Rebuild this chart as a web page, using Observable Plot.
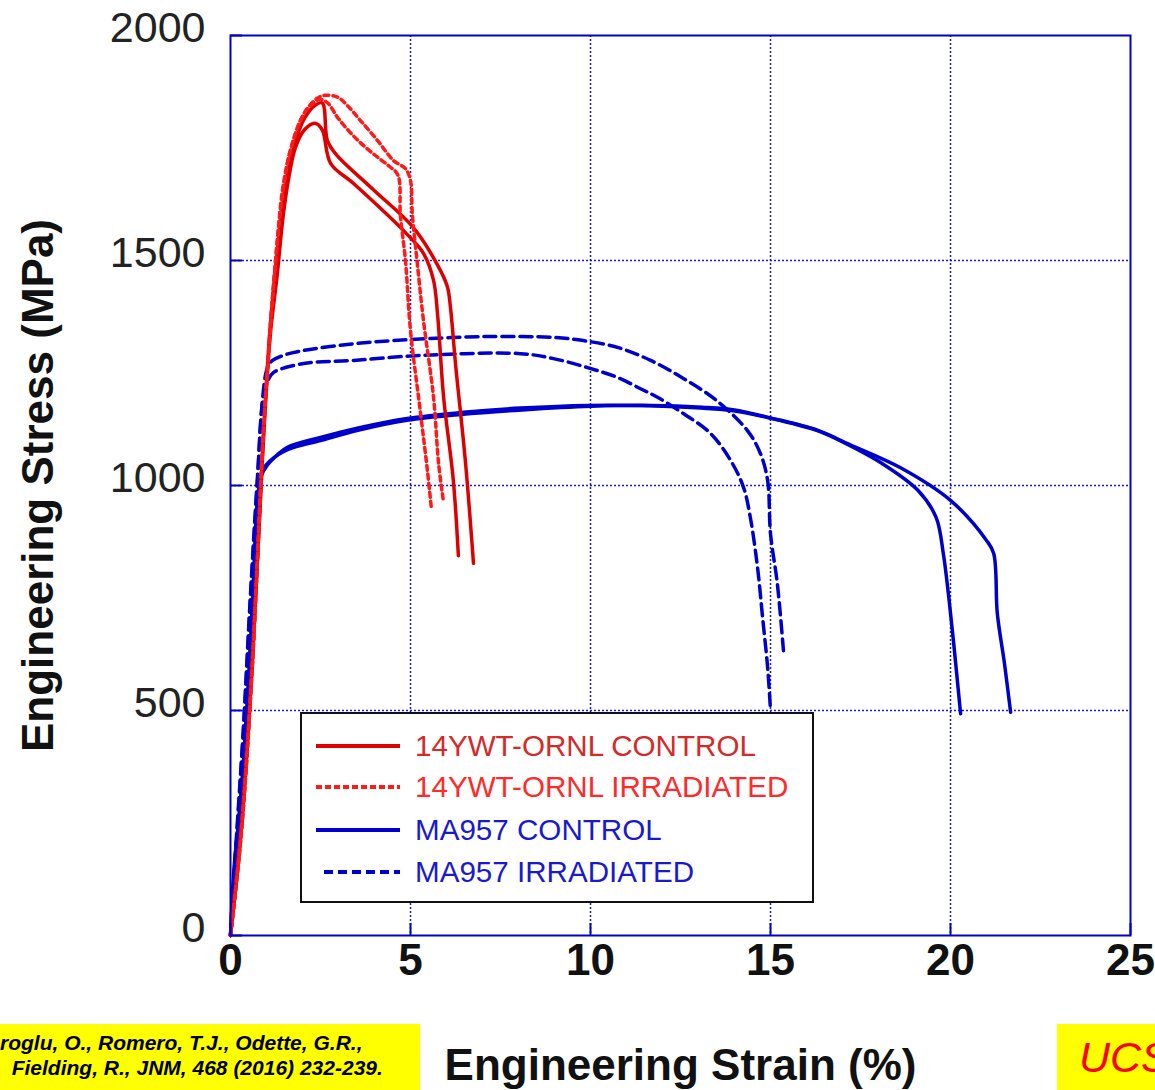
<!DOCTYPE html>
<html>
<head>
<meta charset="utf-8">
<script src="https://cdn.jsdelivr.net/npm/d3@7"></script>
<script src="https://cdn.jsdelivr.net/npm/@observablehq/plot@0.6"></script>
<style>
  html, body { margin: 0; padding: 0; background: #fff; }
  #wrap { position: relative; width: 1155px; height: 1090px; overflow: hidden; font-family: "Liberation Sans", Arial, sans-serif; }
  #legend { position: absolute; left: 300px; top: 712px; width: 510px; height: 187px; border: 2px solid #111; background: #fff; }
  .row { position: absolute; left: 0; height: 40px; width: 510px; }
  .row svg { position: absolute; left: 0; top: 0; }
  .row span { position: absolute; left: 113px; top: 0; line-height: 40px; font-size: 29.6px; white-space: nowrap; }
  #cite { position: absolute; left: 0; top: 1024px; width: 420px; height: 66px; background: #ffff00; font-weight: bold; font-style: italic; font-size: 21px; color: #000; }
  #cite div { position: absolute; white-space: pre; line-height: 24px; }
  #ucs { position: absolute; left: 1057px; top: 1024px; width: 110px; height: 66px; background: #ffff00; color: #ff0000; font-style: italic; font-size: 43px; }
  #ucs span { position: absolute; left: 22px; top: 10px; line-height: 46px; }
</style>
</head>
<body>
<div id="wrap">
  <div id="chart"></div>
  <div id="legend"></div>
  <div id="cite"><div style="left:0;top:7px">roglu, O., Romero, T.J., Odette, G.R.,</div><div style="left:0;top:32px">  Fielding, R., JNM, 468 (2016) 232-239.</div></div>
  <div id="ucs"><span>UCS</span></div>
</div>
<script>
// ---- Data (strain %, stress MPa) ----
const xTicks = [0, 5, 10, 15, 20, 25];
const yTicks = [0, 500, 1000, 1500, 2000];
const xGrid = [5, 10, 15, 20];
const yGrid = [500, 1000, 1500];

const ywtControl1 = [[0,0],[0.3,240],[0.6,600],[0.9,1080],[1.1,1330],[1.3,1470],[1.45,1590],[1.6,1675],[1.8,1750],[2.05,1790],[2.35,1805],[2.55,1790],[2.78,1716],[3.42,1671],[4.86,1562],[5.36,1516],[5.64,1456],[5.75,1382],[5.92,1196],[6.19,1011],[6.33,844]];
const ywtControl2 = [[0,0],[0.3,235],[0.6,595],[0.9,1090],[1.1,1350],[1.3,1520],[1.5,1650],[1.75,1750],[2.05,1815],[2.35,1845],[2.55,1850],[2.69,1767],[2.92,1737],[4.0,1655],[5.08,1573],[5.83,1478],[6.03,1440],[6.11,1396],[6.25,1271],[6.53,1049],[6.75,827]];
const ywtIrr1 = [[0,0],[0.3,225],[0.6,590],[0.9,1100],[1.05,1290],[1.2,1450],[1.4,1620],[1.65,1740],[2.0,1820],[2.3,1850],[2.5,1858],[2.7,1850],[3.0,1815],[3.5,1770],[4.0,1735],[4.4,1710],[4.65,1690],[4.72,1600],[4.86,1500],[5.0,1344],[5.28,1160],[5.47,1033],[5.58,949]];
const ywtIrr2 = [[0,0],[0.3,230],[0.6,590],[0.9,1100],[1.05,1280],[1.15,1400],[1.3,1540],[1.45,1660],[1.7,1755],[2.05,1828],[2.4,1860],[2.6,1867],[2.97,1863],[3.25,1844],[3.61,1811],[4.08,1767],[4.53,1722],[4.86,1704],[5.0,1678],[5.05,1604],[5.19,1493],[5.36,1367],[5.64,1196],[5.78,1049],[5.92,962]];
const maControl1 = [[0,0],[0.1,150],[0.28,300],[0.47,522],[0.61,744],[0.75,967],[0.85,1020],[1.02,1045],[1.3,1068],[1.58,1085],[2.5,1107],[3.61,1129],[4.91,1149],[6.39,1162],[8.06,1172],[9.92,1178],[11.67,1177],[13.06,1172],[13.97,1166],[14.92,1151],[16.3,1122],[17.1,1093],[18.1,1049],[19.1,989],[19.6,929],[19.8,849],[19.94,760],[20.08,656],[20.28,493]];
const maControl2 = [[0,0],[0.12,160],[0.3,320],[0.5,560],[0.65,790],[0.78,990],[0.9,1035],[1.1,1055],[1.6,1080],[2.5,1100],[3.6,1124],[4.9,1145],[6.4,1158],[8.1,1168],[10,1176],[11.7,1178],[13.1,1174],[14,1168],[14.9,1152],[16.3,1123],[17.2,1091],[18.6,1040],[20.0,967],[21.0,878],[21.2,849],[21.3,716],[21.5,604],[21.67,496]];
const maIrr1 = [[0,0],[0.15,200],[0.35,450],[0.55,750],[0.75,1020],[0.9,1200],[1.0,1255],[1.11,1274],[1.5,1290],[2.03,1300],[3.42,1315],[4.92,1324],[7.14,1331],[8.97,1329],[9.8,1322],[10.75,1307],[11.67,1278],[12.58,1238],[13.5,1189],[14.36,1122],[14.72,1071],[14.92,1011],[15.0,893],[15.19,782],[15.36,633]];
const maIrr2 = [[0,0],[0.15,190],[0.35,440],[0.55,740],[0.75,1010],[0.9,1190],[1.05,1235],[1.19,1251],[2.03,1271],[3.42,1278],[5.28,1289],[8.06,1293],[8.97,1282],[9.92,1262],[10.75,1240],[11.39,1215],[11.86,1196],[12.58,1160],[13.33,1116],[13.89,1056],[14.25,996],[14.44,929],[14.64,818],[14.78,707],[14.92,596],[15.0,500]];

const seriesNames = ["14YWT-ORNL CONTROL", "14YWT-ORNL IRRADIATED", "MA957 CONTROL", "MA957 IRRADIATED"];
const seriesColors = ["#dd0000", "#ff1a1a", "#0000cc", "#0000cc"];
const textColors = ["#d42a2a", "#ff2a2a", "#1a1acc", "#1a1acc"];
const seriesDash = [null, "5,4", null, "12,6"];
const legendDash = [null, "6,3", null, "9,5"];

const groups = [
  [ywtControl1, ywtControl2],
  [ywtIrr1, ywtIrr2],
  [maControl1, maControl2],
  [maIrr1, maIrr2]
];

const BLUE = "#0000cc";
const lineMarks = [];
// draw blue first, red on top
[2, 3, 0, 1].forEach(g => {
  groups[g].forEach(arr => {
    lineMarks.push(Plot.line(arr, {
      x: d => d[0], y: d => d[1],
      stroke: seriesColors[g], strokeWidth: 3.5,
      strokeDasharray: seriesDash[g] || undefined,
      curve: "catmull-rom"
    }));
  });
});

const chart = Plot.plot({
  width: 1155, height: 1090,
  marginLeft: 230, marginRight: 25, marginTop: 35, marginBottom: 155,
  style: { fontFamily: "'Liberation Sans', Arial, sans-serif", background: "white", overflow: "visible" },
  x: { domain: [0, 25] },
  y: { domain: [0, 2000] },
  marks: [
    Plot.gridX(xGrid, { stroke: BLUE, strokeOpacity: 0.9, strokeWidth: 1.5, strokeDasharray: "2,2" }),
    Plot.gridY(yGrid, { stroke: BLUE, strokeOpacity: 0.9, strokeWidth: 1.5, strokeDasharray: "2,2" }),
    ...lineMarks,
    Plot.frame({ stroke: BLUE, strokeWidth: 2 }),
    Plot.axisX(xTicks, { tickSize: -12, stroke: BLUE, strokeWidth: 2, tickFormat: () => "", label: null }),
    Plot.axisY(yTicks, { tickSize: -12, stroke: BLUE, strokeWidth: 2, tickFormat: () => "", label: null }),
    Plot.axisX(xTicks, { tickSize: 0, tickPadding: 8, fontSize: 44, fontWeight: "bold", fill: "#111", tickFormat: d => String(d), label: null }),
    Plot.axisY(yTicks, { tickSize: 0, tickPadding: 25, fontSize: 43, fill: "#222", dy: -7, tickFormat: d => String(d), label: null }),
    Plot.text(["Engineering Strain (%)"], { frameAnchor: "bottom", dy: 130, fontSize: 44, fontWeight: "bold", fill: "#111", lineAnchor: "middle", textAnchor: "middle" }),
    Plot.text(["Engineering Stress (MPa)"], { frameAnchor: "left", dx: -192, rotate: -90, fontSize: 44, fontWeight: "bold", fill: "#111", lineAnchor: "middle", textAnchor: "middle" })
  ]
});
document.getElementById("chart").appendChild(chart);

// Legend
const legend = document.getElementById("legend");
const rowTops = [12, 53, 96, 138];
seriesNames.forEach((name, i) => {
  const row = document.createElement("div");
  row.className = "row";
  row.style.top = rowTops[i] + "px";
  const x1 = i === 3 ? 22 : 14;
  const dash = legendDash[i] ? `stroke-dasharray="${legendDash[i]}"` : "";
  row.innerHTML = `<svg width="110" height="40"><line x1="${x1}" x2="98" y1="20" y2="20" stroke="${seriesColors[i]}" stroke-width="4" ${dash}/></svg><span style="color:${textColors[i]}">${name}</span>`;
  legend.appendChild(row);
});
</script>
</body>
</html>
